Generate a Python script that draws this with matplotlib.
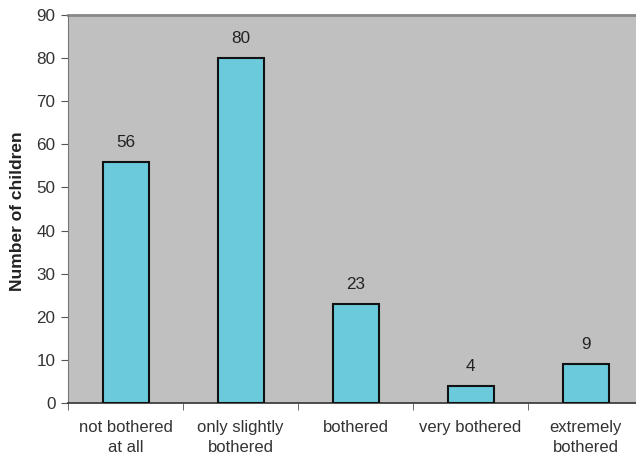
import matplotlib.pyplot as plt
import numpy as np

plt.rcParams['font.family'] = ['Liberation Sans', 'DejaVu Sans']

categories = ['not bothered\nat all', 'only slightly\nbothered', 'bothered',
              'very bothered', 'extremely\nbothered']
children = [56, 80, 23, 4, 9]

fig = plt.figure(figsize=(6.36, 4.62), dpi=100)
# plot area runs off the right edge in the original
ax = fig.add_axes([68 / 636, (462 - 403) / 462, 575 / 636, 388 / 462])
ax.set_facecolor('#c0c0c0')

x = np.arange(len(children))
ax.bar(x, children, width=0.4, color='#6bcbdc', edgecolor='#111111', linewidth=1.5, zorder=3)

for xi, v in zip(x, children):
    ax.text(xi, v + 2.8, str(v), ha='center', va='bottom', fontsize=12.3, color='#222222')

ax.set_xlim(-0.5, len(children) - 0.5)
ax.set_ylim(0, 90)
ax.set_yticks(range(0, 91, 10))
ax.set_xticks(x)
ax.set_xticklabels(categories, fontsize=12, color='#333333', linespacing=1.45)
ax.set_xticks(np.arange(-0.5, len(children), 1), minor=True)
ax.tick_params(axis='x', which='major', length=0, pad=12)
ax.tick_params(axis='x', which='minor', length=5, color='#555555', direction='out')
ax.tick_params(axis='y', length=5, color='#555555', labelsize=12.3, labelcolor='#333333', pad=4)

for s in ['top', 'right']:
    ax.spines[s].set_visible(False)
ax.spines['left'].set_color('#777777')
ax.spines['bottom'].set_color('#333333')
ax.spines['bottom'].set_linewidth(1.2)
ax.axhline(90, color='#888888', linewidth=2, clip_on=False)

ax.set_ylabel('Number of children', fontsize=12.5, fontweight='bold', color='#222222')
ax.yaxis.set_label_coords(-43 / 575, 0.495)

fig.savefig('out.png', dpi=100)
